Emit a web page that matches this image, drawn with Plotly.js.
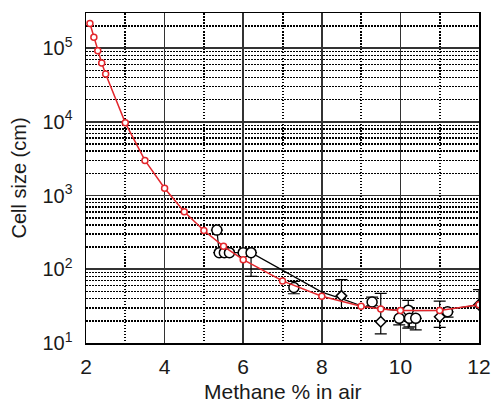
<!DOCTYPE html>
<html><head><meta charset="utf-8">
<script src="https://cdn.plot.ly/plotly-3.0.1.min.js"></script>
<style>body{margin:0;padding:0;background:#fff}#plot{width:491px;height:402px}</style>
</head><body><div id="plot"></div>
<script>
// Model curve (red)
const modelX = [2.1, 2.2, 2.3, 2.4, 2.5, 3.0, 3.5, 4.0, 4.5, 5.0, 5.5, 6.0, 7.0, 8.0, 9.0, 9.5, 10.0, 11.0, 12.0];
const modelY = [216000, 141000, 92000, 63000, 44600, 9700, 3000, 1260, 603, 336, 205, 135, 69.5, 43, 31.6, 29, 27.6, 27.6, 33];

// Black line through experimental trend
const lineX = [5.33, 5.39, 6.2, 8.0, 8.5, 9.0, 9.5, 10.0, 11.0, 12.0];
const lineY = [340, 168, 168, 49, 40, 32, 29, 27.5, 27.6, 33];

// Experimental points (circles)
const circX = [5.33, 5.39, 5.52, 5.65, 6.0, 6.2, 7.29, 9.28, 9.97, 10.2, 10.23, 10.39, 11.2];
const circY = [340, 168, 168, 168, 168, 168, 56.6, 36, 21.6, 27.9, 21.6, 21.6, 26.5];
const circPlus = [0, 0, 0, 0, 0, 0, 12, 6, 0, 10, 0, 0, 0];
const circMinus = [0, 0, 0, 0, 0, 88, 10, 4, 4, 12, 5, 6.5, 4];

// Experimental points (diamonds)
const diaX = [8.5, 9.5, 11.0, 12.0];
const diaY = [43.6, 19.4, 22.7, 33];
const diaPlus = [29, 27.6, 14.3, 20];
const diaMinus = [14.2, 6.1, 6.4, 0];

// Tick labels
const xTicks = [2, 4, 6, 8, 10, 12];
const yTickVals = [10, 100, 1000, 10000, 100000];
const yTickText = ['10<sup>1</sup>', '10<sup>2</sup>', '10<sup>3</sup>', '10<sup>4</sup>', '10<sup>5</sup>'];
const xTitle = 'Methane % in air';
const yTitle = 'Cell size (cm)';
const yMinor = [];
[10, 100, 1000, 10000, 100000].forEach(d => { for (let k = 2; k <= 9; k++) { if (d * k <= 300000) yMinor.push(d * k); } });

const traces = [
  {x: lineX, y: lineY, mode: 'lines', line: {color: '#000', width: 1.2}, hoverinfo: 'skip'},
  {x: circX, y: circY, mode: 'markers',
   marker: {symbol: 'circle', size: 10, color: '#fff', line: {color: '#000', width: 1.5}},
   error_y: {type: 'data', symmetric: false, array: circPlus, arrayminus: circMinus, color: '#000', thickness: 1.2, width: 6}},
  {x: diaX, y: diaY, mode: 'markers',
   marker: {symbol: 'diamond', size: 8, color: '#fff', line: {color: '#000', width: 1.5}},
   error_y: {type: 'data', symmetric: false, array: diaPlus, arrayminus: diaMinus, color: '#000', thickness: 1.2, width: 6}},
  {x: modelX, y: modelY, mode: 'lines+markers', line: {color: '#e3262c', width: 1.5},
   marker: {symbol: 'circle', size: 6, color: '#fff', line: {color: '#e3262c', width: 1.5}}}
];

const font = {family: 'Liberation Sans, Arial, sans-serif', size: 20, color: '#1a1a1a'};
const xfont = {family: 'Liberation Sans, Arial, sans-serif', size: 21, color: '#1a1a1a'};
const layout = {
  width: 491, height: 402,
  margin: {l: 86, r: 12, t: 13, b: 59},
  paper_bgcolor: '#fff', plot_bgcolor: '#fff',
  showlegend: false,
  font: font,
  xaxis: {
    range: [2, 12], tickvals: xTicks, ticktext: xTicks.map(String),
    showgrid: true, gridcolor: '#333', gridwidth: 1.6,
    minor: {tickvals: [3, 5, 7, 9, 11], showgrid: true, gridcolor: '#000', gridwidth: 2, griddash: '1.5px,1.5px', ticks: ''},
    showline: true, linecolor: '#000', linewidth: 1.5, mirror: true,
    ticks: '', zeroline: false, tickfont: xfont, ticklabelstandoff: 4
  },
  yaxis: {
    type: 'log', range: [1, Math.log10(300000)],
    tickvals: yTickVals, ticktext: yTickText,
    showgrid: true, gridcolor: '#333', gridwidth: 1.6,
    minor: {tickvals: yMinor, showgrid: true, gridcolor: '#000', gridwidth: 1.5, griddash: '1.5px,1.5px', ticks: ''},
    showline: true, linecolor: '#000', linewidth: 1.5, mirror: true,
    ticks: '', zeroline: false, tickfont: font, ticklabelstandoff: 8,
    title: {text: yTitle, font: font, standoff: 10}
  },
  annotations: [{
    text: xTitle, xref: 'paper', yref: 'paper', x: 0.5, y: -0.148,
    xanchor: 'center', yanchor: 'middle', showarrow: false, font: xfont
  }]
};
Plotly.newPlot('plot', traces, layout, {displayModeBar: false, staticPlot: true});
</script></body></html>
